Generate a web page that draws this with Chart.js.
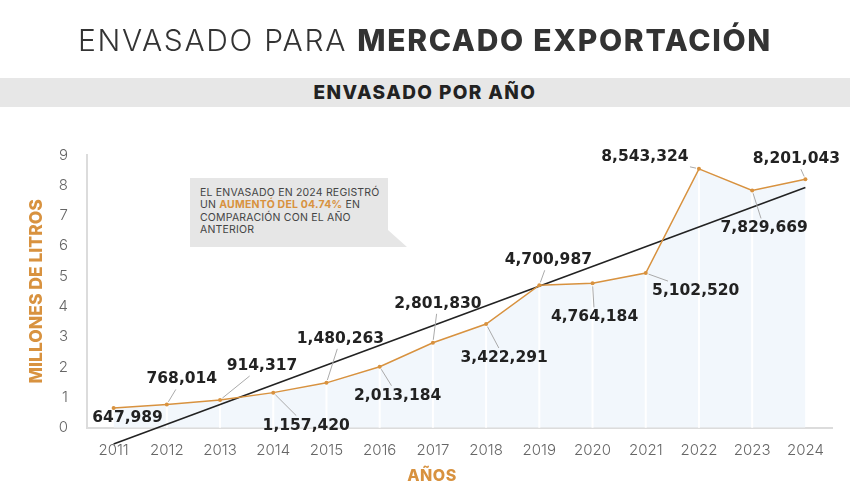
<!DOCTYPE html>
<html>
<head>
<meta charset="utf-8">
<script src="https://cdn.jsdelivr.net/npm/chart.js@4.4.0/dist/chart.umd.min.js"></script>
<style>
  body { margin: 0; background: #fff; }
  #wrap { position: relative; width: 850px; height: 500px; overflow: hidden; font-family: Inter, sans-serif; }
  #chart { position: absolute; left: 0; top: 0; }
  .titulo { position: absolute; left: 0; width: 850px; top: 22px; line-height: 36px; text-align: center; font-size: 30px; letter-spacing: 1.7px; color: #333; white-space: nowrap; }
  .titulo .light { font-weight: 300; }
  .titulo .bold { font-weight: 800; }
  .banda { position: absolute; left: 0; width: 850px; top: 78px; height: 29px; line-height: 29px; background: #e7e7e7; text-align: center; font-size: 19px; letter-spacing: 1.4px; font-weight: 800; color: #222; }
  .nota { position: absolute; left: 190px; top: 178px; width: 217px; height: 69px; background: #e6e6e6;
          clip-path: polygon(0 0, 198px 0, 198px 52px, 217px 69px, 0 69px); }
  .nota p { margin: 0; padding: 9px 0 0 10px; font-size: 10.5px; letter-spacing: 0.2px; line-height: 12.3px; color: #444; }
  .nota b { color: #d8923f; font-weight: 700; }
  .xtitulo { position: absolute; left: 382px; width: 100px; top: 465px; text-align: center; font-size: 16px; letter-spacing: 0.5px; font-weight: 800; color: #d8923f; }
</style>
</head>
<body>
<div id="wrap">
  <canvas id="chart" width="850" height="500"></canvas>
  <div class="titulo"><span class="light">ENVASADO PARA </span><span class="bold">MERCADO EXPORTACIÓN</span></div>
  <div class="banda">ENVASADO POR AÑO</div>
  <div class="nota"><p>EL ENVASADO EN 2024 REGISTRÓ<br>UN <b>AUMENTÓ DEL 04.74%</b> EN<br>COMPARACIÓN CON EL AÑO<br>ANTERIOR</p></div>
  <div class="xtitulo">AÑOS</div>
</div>
<script>
const years = ['2011', '2012', '2013', '2014', '2015', '2016', '2017', '2018', '2019', '2020', '2021', '2022', '2023', '2024'];
const litros = [647989, 768014, 914317, 1157420, 1480263, 2013184, 2801830, 3422291, 4700987, 4764184, 5102520, 8543324, 7829669, 8201043];
// linea de tendencia, extremos (millones)
const trendEnds = [-0.54, 7.93];
const yTicks = [0, 1, 2, 3, 4, 5, 6, 7, 8, 9];

// desplazamiento de cada etiqueta respecto a su punto (px)
const labelOffsets = [[14, 10], [15, -25], [42, -34], [33, 33], [14, -44], [18, 29], [5, -39],
                      [18, 34], [9, -25], [2, 34], [50, 18], [-54, -12], [12, 38], [-9, -20]];

const naranja = '#d8923f';

// lineas blancas verticales sobre el relleno
const franjas = {
  id: 'franjas',
  beforeDatasetsDraw(chart) {
    const ctx = chart.ctx;
    const meta = chart.getDatasetMeta(0);
    const bottom = chart.scales.y.getPixelForValue(0);
    ctx.save();
    ctx.strokeStyle = '#ffffff';
    ctx.lineWidth = 2;
    meta.data.forEach((pt, i) => {
      if (i === 0 || i === meta.data.length - 1) return;
      ctx.beginPath();
      ctx.moveTo(pt.x, pt.y);
      ctx.lineTo(pt.x, bottom);
      ctx.stroke();
    });
    ctx.restore();
  }
};

// etiquetas de valores con linea guia
const etiquetas = {
  id: 'etiquetas',
  afterDatasetsDraw(chart) {
    const ctx = chart.ctx;
    const meta = chart.getDatasetMeta(0);
    ctx.save();
    ctx.font = 'bold 15.5px "DejaVu Sans"';
    ctx.textAlign = 'center';
    ctx.textBaseline = 'middle';
    meta.data.forEach((pt, i) => {
      const txt = litros[i].toLocaleString('en-US');
      const [ox, oy] = labelOffsets[i];
      const cx = pt.x + ox, cy = pt.y + oy;
      const w = ctx.measureText(txt).width;
      const dx = pt.x - cx, dy = pt.y - cy;
      const t = Math.min(Math.abs(dx) > 0 ? (w / 2 + 3) / Math.abs(dx) : Infinity,
                         Math.abs(dy) > 0 ? 10 / Math.abs(dy) : Infinity);
      if (t < 1) {
        const len = Math.hypot(dx, dy);
        ctx.beginPath();
        ctx.strokeStyle = '#aaaaaa';
        ctx.lineWidth = 1;
        ctx.moveTo(pt.x - dx / len * 3, pt.y - dy / len * 3);
        ctx.lineTo(cx + dx * t, cy + dy * t);
        ctx.stroke();
      }
      ctx.fillStyle = '#222';
      ctx.fillText(txt, cx, cy);
    });
    ctx.restore();
  }
};

new Chart(document.getElementById('chart'), {
  type: 'line',
  data: {
    labels: years,
    datasets: [{
      label: 'Envasado',
      data: litros.map(v => v / 1e6),
      borderColor: naranja,
      borderWidth: 1.5,
      pointRadius: 2,
      pointBackgroundColor: naranja,
      pointBorderWidth: 0,
      fill: 'origin',
      backgroundColor: '#f2f7fc',
      tension: 0
    }, {
      label: 'Tendencia',
      data: years.map((_, i) => i === 0 ? trendEnds[0] : (i === years.length - 1 ? trendEnds[1] : null)),
      spanGaps: true,
      borderColor: '#222',
      borderWidth: 1.6,
      pointRadius: 0,
      fill: false,
      clip: false
    }]
  },
  options: {
    responsive: false,
    animation: false,
    devicePixelRatio: 1,
    layout: { padding: { top: 155, left: 26, right: 18, bottom: 0 } },
    plugins: {
      legend: { display: false },
      tooltip: { enabled: false },
      filler: { drawTime: 'beforeDatasetsDraw' }
    },
    scales: {
      x: {
        offset: true,
        grid: { display: false, drawTicks: false },
        border: { display: true, color: '#dcdcdc', width: 2 },
        ticks: { padding: 14, color: '#666', font: { family: 'Inter', weight: 300, size: 15 } },
        afterFit: s => { s.height = 72.3; }
      },
      y: {
        min: 0,
        max: 9,
        afterBuildTicks: s => { s.ticks = yTicks.map(v => ({ value: v })); },
        grid: { display: false, drawTicks: false },
        border: { display: true, color: '#dcdcdc', width: 2 },
        ticks: { padding: 19, color: '#666', font: { family: 'Inter', weight: 300, size: 15 } },
        title: {
          display: true,
          text: 'MILLONES DE LITROS',
          color: naranja,
          padding: 0,
          font: { family: 'Inter', weight: 800, size: 17.5 }
        },
        afterFit: s => { s.width = 61; }
      }
    }
  },
  plugins: [franjas, etiquetas]
});
</script>
</body>
</html>
